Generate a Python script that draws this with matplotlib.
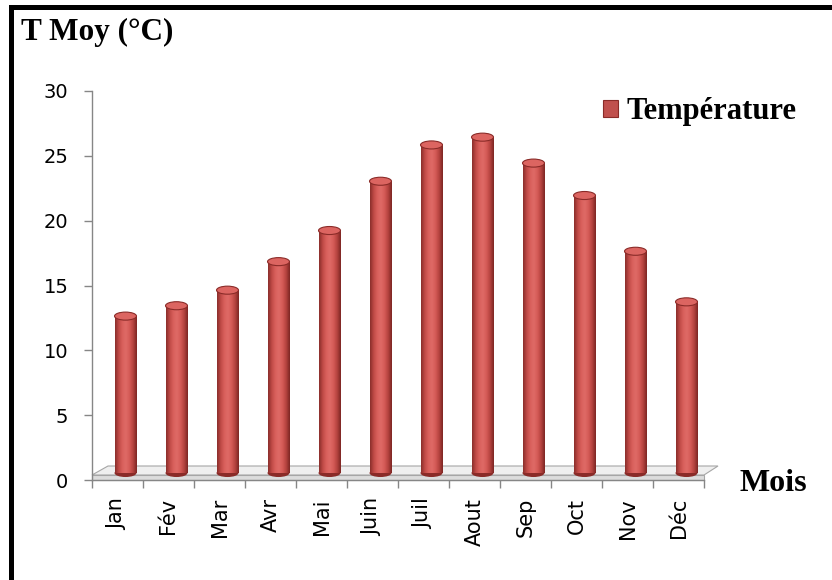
import matplotlib
matplotlib.use('Agg')
import matplotlib.pyplot as plt
import matplotlib.transforms as mtransforms
import numpy as np
from matplotlib.colors import LinearSegmentedColormap
from matplotlib.patches import Ellipse, Polygon, Rectangle


months = ['Jan', 'Fév', 'Mar', 'Avr', 'Mai', 'Juin', 'Juil', 'Aout', 'Sep', 'Oct', 'Nov', 'Déc']
t_moy = [12.1, 12.9, 14.1, 16.3, 18.7, 22.5, 25.3, 25.9, 23.9, 21.4, 17.1, 13.2]
y_ticks = [0, 5, 10, 15, 20, 25, 30]

W, H, DPI = 832, 580, 100
GREY = '#868686'
RED = '#C0504D'

# horizontal shading that makes a flat bar look like a cylinder
cyl_cmap = LinearSegmentedColormap.from_list(
    'cyl', ['#8a2e2b', '#c04a46', '#d9605c', '#df6b67', '#d45a56', '#b5433f', '#7c2623'])


def fx(x):
    return x / W


def fy(y):
    return 1 - y / H


def main():
    plt.rcParams['font.family'] = ['DejaVu Sans']
    fig = plt.figure(figsize=(W / DPI, H / DPI), dpi=DPI)
    fig.patch.set_facecolor('white')

    ax = fig.add_axes([fx(92), fy(480), fx(704) - fx(92), fy(91) - fy(480)])

    n = len(months)
    xs = np.arange(n) + 0.5
    bw = 0.43
    cap_h = 0.62  # ellipse height in data units

    # the columns stand in the middle of the 3D floor, a few pixels up and right
    shift = ax.transData + mtransforms.ScaledTranslation(0.08, 0.07, fig.dpi_scale_trans)

    bars = ax.bar(xs, t_moy, width=bw, color=RED, linewidth=0, zorder=3, label='Température')
    grad = np.linspace(0, 1, 64).reshape(1, -1)
    for rect, x, v in zip(bars, xs, t_moy):
        rect.set_transform(shift)
        im = ax.imshow(grad, cmap=cyl_cmap, extent=(x - bw / 2, x + bw / 2, 0, v),
                       aspect='auto', interpolation='bicubic', zorder=3.1)
        im.set_transform(shift)
        ax.add_patch(Ellipse((x, 0), bw, cap_h, facecolor='#8a2b28', edgecolor='none',
                             transform=shift, zorder=2.9))
        ax.add_patch(Ellipse((x, v), bw, cap_h, facecolor='#dc6561', edgecolor='#8a2b28',
                             linewidth=0.8, transform=shift, zorder=4))

    ax.set_xlim(0, n)
    ax.set_ylim(0, 30)
    ax.set_aspect('auto')

    # floor slab
    p0 = ax.transData.transform((0, 0))
    p1 = ax.transData.transform((n, 0))
    front = [p0, p1, p1 + (0, 5), p0 + (0, 5)]
    top = [p0 + (0, 5), p1 + (0, 5), p1 + (14, 14), p0 + (16, 14)]
    ax.add_patch(Polygon(front, closed=True, facecolor='#dcdcdc', edgecolor='#a6a6a6',
                         linewidth=0.8, transform=mtransforms.IdentityTransform(),
                         clip_on=False, zorder=2))
    ax.add_patch(Polygon(top, closed=True, facecolor='#efefef', edgecolor='#a6a6a6',
                         linewidth=0.8, transform=mtransforms.IdentityTransform(),
                         clip_on=False, zorder=2))

    for side in ['top', 'right']:
        ax.spines[side].set_visible(False)
    for side in ['left', 'bottom']:
        ax.spines[side].set_color(GREY)
        ax.spines[side].set_linewidth(1)

    ax.set_yticks(y_ticks)
    ax.tick_params(axis='y', colors=GREY, length=6, width=1, pad=11, labelsize=14,
                   labelcolor='black')
    ax.set_xticks(np.arange(n + 1))
    ax.set_xticks(xs, minor=True)
    ax.set_xticklabels([])
    ax.set_xticklabels(months, minor=True, rotation=90, fontsize=15)
    ax.tick_params(axis='x', which='major', colors=GREY, length=6, width=1)
    ax.tick_params(axis='x', which='minor', length=0, pad=13, labelcolor='black')
    for lbl in ax.get_xticklabels(minor=True):
        lbl.set_verticalalignment('top')

    serif = ['Liberation Serif', 'DejaVu Serif']
    fig.text(fx(21), fy(40), 'T Moy (°C)', fontsize=22.5, fontweight='bold',
             family=serif, ha='left', va='baseline')
    fig.text(fx(739), fy(491), 'Mois', fontsize=23, fontweight='bold',
             family=serif, ha='left', va='baseline')

    leg = ax.legend(handles=[bars], loc='center left', bbox_to_anchor=(fx(603), fy(112)),
                    bbox_transform=fig.transFigure, frameon=False, borderpad=0,
                    borderaxespad=0, handlelength=0.5, handleheight=0.5,
                    handletextpad=0.26, prop={'family': serif, 'weight': 'bold', 'size': 22})
    for h in leg.legend_handles:
        h.set_edgecolor('#8a2b28')
        h.set_linewidth(0.8)

    # black frame along the top and left edges
    fig.add_artist(Rectangle((fx(9), fy(10)), 1 - fx(9), fy(5) - fy(10), transform=fig.transFigure,
                             facecolor='black', edgecolor='none'))
    fig.add_artist(Rectangle((fx(9), 0), fx(14) - fx(9), fy(5), transform=fig.transFigure,
                             facecolor='black', edgecolor='none'))

    fig.savefig('out.png', dpi=DPI)


if __name__ == '__main__':
    main()
